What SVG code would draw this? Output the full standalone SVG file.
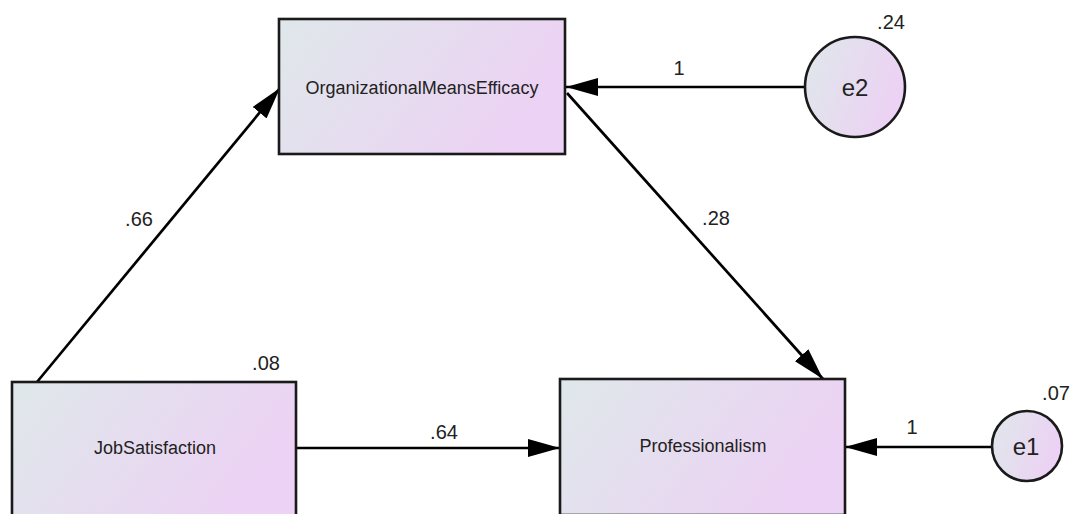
<svg xmlns="http://www.w3.org/2000/svg" width="1075" height="514" viewBox="0 0 1075 514">
<defs>
<linearGradient id="g" x1="0" y1="0" x2="1" y2="0.35">
<stop offset="0" stop-color="#dfe8ea"/>
<stop offset="1" stop-color="#ecd2f4"/>
</linearGradient>
<marker id="ah" markerUnits="userSpaceOnUse" viewBox="0 0 32 18" refX="32" refY="9" markerWidth="32" markerHeight="18" orient="auto">
<path d="M0,0 L32,9 L0,18 z" fill="#000"/>
</marker>
<style>
.box{fill:url(#g);stroke:#1a1a1a;stroke-width:2.6}
.t{font-family:"Liberation Sans",Arial,sans-serif;font-size:18px;fill:#222;text-anchor:middle}
.lab{font-family:"Liberation Sans",Arial,sans-serif;font-size:20px;fill:#222;text-anchor:middle}
.big{font-family:"Liberation Sans",Arial,sans-serif;font-size:24px;fill:#222;text-anchor:middle}
.c{stroke:#000;stroke-width:2.7;fill:none;marker-end:url(#ah)}
</style>
</defs>
<rect width="1075" height="514" fill="#fff"/>
<g id="connectors">
<line class="c" x1="37" y1="382" x2="280" y2="88"/>
<line class="c" x1="567" y1="93" x2="823" y2="379"/>
<line class="c" x1="805" y1="87" x2="566" y2="87"/>
<line class="c" x1="296" y1="448" x2="560" y2="448"/>
<line class="c" x1="992" y1="447" x2="845" y2="447"/>
<text class="lab" x="139" y="226">.66</text>
<text class="lab" x="716" y="225">.28</text>
<text class="lab" x="679" y="75">1</text>
<text class="lab" x="444" y="439">.64</text>
<text class="lab" x="912" y="434">1</text>
</g>
<g id="OrganizationalMeansEfficacy">
<rect class="box" x="279" y="19" width="286" height="135"/>
<text class="t" x="422" y="94">OrganizationalMeansEfficacy</text>
</g>
<g id="e2">
<circle class="box" cx="855" cy="87" r="50"/>
<text class="big" x="855" y="96">e2</text>
<text class="lab" x="891" y="29">.24</text>
</g>
<g id="JobSatisfaction">
<rect class="box" x="12" y="382" width="284" height="136"/>
<text class="t" x="155" y="454">JobSatisfaction</text>
<text class="lab" x="266" y="370">.08</text>
</g>
<g id="Professionalism">
<rect class="box" x="560" y="379" width="285" height="136"/>
<text class="t" x="703" y="452">Professionalism</text>
</g>
<g id="e1">
<circle class="box" cx="1027" cy="446" r="35"/>
<text class="big" x="1026" y="455">e1</text>
<text class="lab" x="1056" y="400">.07</text>
</g>
</svg>
